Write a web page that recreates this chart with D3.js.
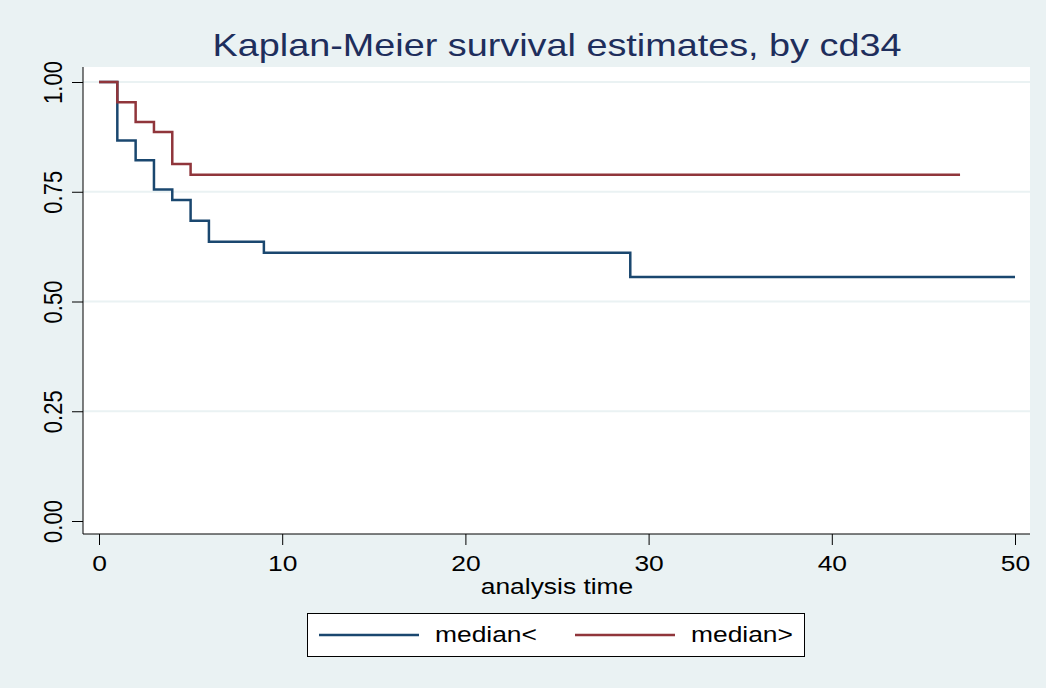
<!DOCTYPE html>
<html>
<head>
<meta charset="utf-8">
<script src="https://cdn.jsdelivr.net/npm/d3@7"></script>
<style>
  body { margin: 0; background: #EAF2F3; }
  svg { display: block; font-family: "Liberation Sans", Arial, sans-serif; }
</style>
</head>
<body>
<script>
// KM step data
var blueTimes = [0, 1, 2, 3, 4, 5, 6, 9, 29, 50];
var blueSurv  = [1, 0.867, 0.822, 0.755, 0.731, 0.684, 0.636, 0.611, 0.556, 0.556];
var redTimes  = [0, 1, 2, 3, 4, 5, 47];
var redSurv   = [1, 0.954, 0.909, 0.886, 0.813, 0.789, 0.789];
var xTicks = [0, 10, 20, 30, 40, 50];
var yTicks = [0, 0.25, 0.5, 0.75, 1];
var seriesNames = ["median<", "median>"];
var seriesColors = ["#1A476F", "#90353B"];

var w = 1046, h = 688;
var stretch = "scale(1.2,1)"; // the picture's text is a bit wide

var svg = d3.select("body").append("svg")
    .attr("width", w)
    .attr("height", h);

svg.append("rect")
    .attr("width", w).attr("height", h)
    .attr("fill", "#EAF2F3");

// plot region
var pLeft = 83, pRight = 1030, pTop = 67, pBottom = 534;

var x = d3.scaleLinear().domain([0, 50]).range([99, 1015]);
var y = d3.scaleLinear().domain([0, 1]).range([521, 82]);

svg.append("rect")
    .attr("x", pLeft).attr("y", pTop)
    .attr("width", pRight - pLeft).attr("height", pBottom - pTop)
    .attr("fill", "#fff");

// grid
svg.append("g").selectAll("line")
    .data(yTicks.filter(d => d > 0))
    .enter().append("line")
    .attr("x1", pLeft).attr("x2", pRight)
    .attr("y1", d => y(d)).attr("y2", d => y(d))
    .attr("stroke", "#EAF2F3")
    .attr("stroke-width", 2);

// axes
var yAxis = svg.append("g")
    .attr("transform", "translate(" + pLeft + ",0)")
    .call(d3.axisLeft(y).tickValues(yTicks).tickFormat(d3.format(".2f")).tickSize(11));
yAxis.select(".domain").attr("d", "M0," + pTop + "V" + pBottom).attr("stroke", "#000");
yAxis.selectAll(".tick line").attr("stroke", "#000");
yAxis.selectAll(".tick text")
    .attr("font-size", 22)
    .attr("fill", "#000")
    .attr("text-anchor", "middle")
    .attr("dy", 0)
    .attr("x", 0)
    .attr("y", 0)
    .attr("transform", "translate(-21,0) " + stretch + " rotate(-90)");

var xAxis = svg.append("g")
    .attr("transform", "translate(0," + pBottom + ")")
    .call(d3.axisBottom(x).tickValues(xTicks).tickSize(11));
xAxis.select(".domain").attr("d", "M" + pLeft + ",0H" + pRight).attr("stroke", "#000");
xAxis.selectAll(".tick line").attr("stroke", "#000");
xAxis.selectAll(".tick text")
    .attr("font-size", 22)
    .attr("fill", "#000")
    .attr("dy", 0)
    .attr("y", 37)
    .attr("transform", stretch);

svg.append("g")
    .attr("transform", "translate(557,594) " + stretch)
    .append("text")
    .attr("text-anchor", "middle")
    .attr("font-size", 22)
    .text("analysis time");

svg.append("g")
    .attr("transform", "translate(557,56) " + stretch)
    .append("text")
    .attr("text-anchor", "middle")
    .attr("font-size", 31.5)
    .attr("fill", "#1E2E5C")
    .text("Kaplan-Meier survival estimates, by cd34");

// curves
var line = d3.line()
    .x(d => x(d[0]))
    .y(d => y(d[1]))
    .curve(d3.curveStepAfter);

var series = [d3.zip(blueTimes, blueSurv), d3.zip(redTimes, redSurv)];
svg.append("g").selectAll("path")
    .data(series)
    .enter().append("path")
    .attr("d", line)
    .attr("fill", "none")
    .attr("stroke", (d, i) => seriesColors[i])
    .attr("stroke-width", 2.5);

// legend
var legend = svg.append("g");
legend.append("rect")
    .attr("x", 307.5).attr("y", 613.5)
    .attr("width", 497).attr("height", 43)
    .attr("fill", "#fff")
    .attr("stroke", "#000");
var items = legend.selectAll("g.item")
    .data(seriesNames)
    .enter().append("g")
    .attr("transform", (d, i) => "translate(" + (319 + i * 256) + ",0)");
items.append("line")
    .attr("x1", 0).attr("x2", 100)
    .attr("y1", 635).attr("y2", 635)
    .attr("stroke", (d, i) => seriesColors[i])
    .attr("stroke-width", 2.5);
items.append("g")
    .attr("transform", "translate(116,642) " + stretch)
    .append("text")
    .attr("font-size", 22)
    .text(d => d);
</script>
</body>
</html>
